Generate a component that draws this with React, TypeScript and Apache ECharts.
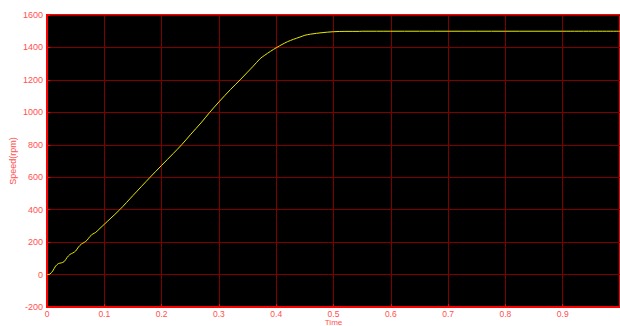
import React, { useEffect, useRef } from "react";
import * as echarts from "echarts";

const timeValues = [
  0, 0.005, 0.01, 0.015, 0.02, 0.025, 0.03, 0.035, 0.04, 0.045, 0.05, 0.055, 0.06, 0.065, 0.07,
  0.075, 0.08, 0.085, 0.0925, 0.1, 0.11, 0.127, 0.15, 0.18, 0.2, 0.22, 0.235, 0.25, 0.27, 0.284,
  0.3, 0.32, 0.337, 0.35, 0.36, 0.372, 0.38, 0.39, 0.401, 0.41, 0.42, 0.43, 0.4415, 0.45, 0.46,
  0.48, 0.5, 0.52, 0.545, 0.55, 0.6, 0.7, 0.8, 0.9, 1.0,
];
const speedValues = [
  0, 3, 22, 52, 68, 72, 80, 105, 124, 133, 145, 170, 188, 198, 212,
  235, 250, 260, 285, 310, 343, 400, 487, 600, 673, 745, 800, 861, 940, 1000,
  1064, 1140, 1200, 1248, 1285, 1331, 1352, 1376, 1400, 1418, 1436, 1450, 1464, 1475, 1482,
  1491, 1497, 1499, 1499, 1500, 1500, 1500, 1500, 1500, 1500,
];
const yTicks = { min: -200, max: 1600, interval: 200 };
const xTicks = { min: 0, max: 1, interval: 0.1 };

export default function App() {
  const ref = useRef<HTMLDivElement>(null);
  useEffect(() => {
    if (!ref.current) return;
    const chart = echarts.init(ref.current, null, { renderer: "svg" });
    const labelColor = "#ff5050";
    const gridColor = "#800000";
    const font = "Liberation Sans, Arial, sans-serif";
    chart.setOption({
      animation: false,
      backgroundColor: "#ffffff",
      grid: {
        left: 47,
        top: 15,
        right: 0,
        bottom: 19,
        outerBoundsMode: "none",
        containLabel: false,
        show: true,
        backgroundColor: "#000000",
        borderColor: "#ff0000",
        borderWidth: 2,
      },
      xAxis: {
        type: "value",
        min: xTicks.min,
        max: xTicks.max,
        interval: xTicks.interval,
        name: "Time",
        nameLocation: "middle",
        nameGap: 11,
        nameMoveOverlap: false,
        nameTextStyle: { color: labelColor, fontSize: 8, fontFamily: font },
        axisLine: { show: true, onZero: false, lineStyle: { color: "#ff0000", width: 2 } },
        axisTick: { show: true, inside: true, length: 3, lineStyle: { color: "#ff0000" } },
        splitLine: { show: true, lineStyle: { color: gridColor, width: 1 } },
        axisLabel: {
          color: labelColor,
          fontSize: 8.5,
          margin: 2,
          fontFamily: font,
          showMaxLabel: false,
          formatter: (v: number) => (Math.abs(v - 1) < 1e-9 ? "" : String(Math.round(v * 10) / 10)),
        },
      },
      yAxis: {
        type: "value",
        min: yTicks.min,
        max: yTicks.max,
        interval: yTicks.interval,
        name: "Speed(rpm)",
        nameLocation: "middle",
        nameGap: 30,
        nameMoveOverlap: false,
        nameTextStyle: { color: labelColor, fontSize: 9, fontFamily: font },
        axisLine: { show: true, lineStyle: { color: "#ff0000", width: 2 } },
        axisTick: { show: true, inside: true, length: 3, lineStyle: { color: "#ff0000" } },
        splitLine: { show: true, lineStyle: { color: gridColor, width: 1 } },
        axisLabel: {
          color: labelColor,
          fontSize: 9,
          margin: 4,
          fontFamily: font,
          formatter: (v: number) => String(v),
        },
      },
      series: [
        {
          type: "line",
          data: timeValues.map((t, i) => [t, speedValues[i]]),
          showSymbol: false,
          smooth: 0.3,
          lineStyle: { color: "#e8e800", width: 1 },
        },
      ],
    });
    return () => chart.dispose();
  }, []);
  return (
    <div
      ref={ref}
      style={{ position: "fixed", left: 0, top: 0, width: 620, height: 326 }}
    />
  );
}
